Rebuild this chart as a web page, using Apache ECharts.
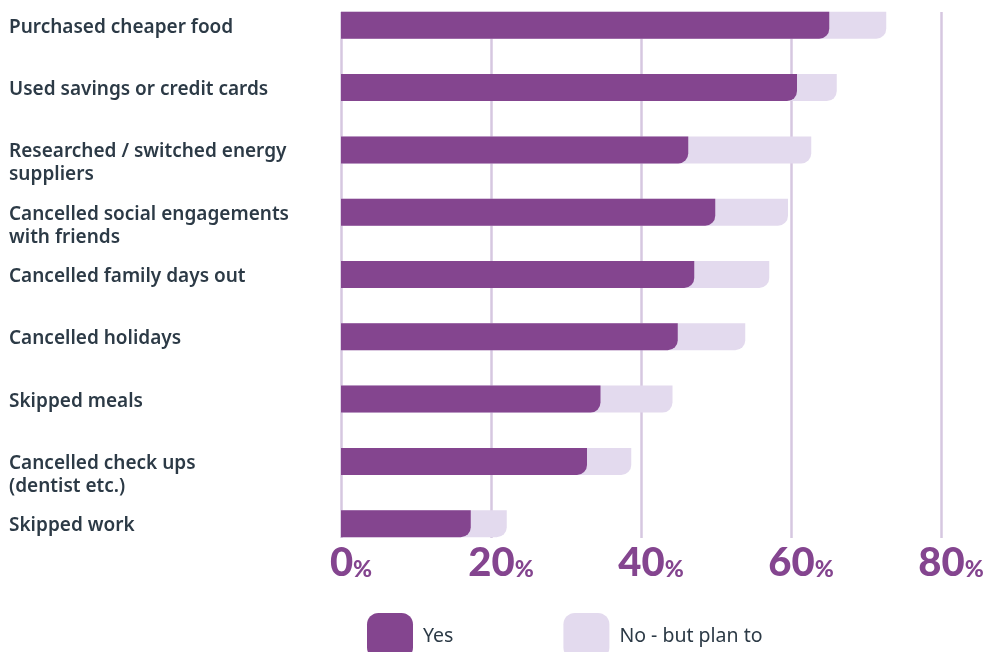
<!DOCTYPE html>
<html>
<head>
<meta charset="utf-8">
<script src="https://cdn.jsdelivr.net/npm/echarts@6/dist/echarts.min.js"></script>
<style>
  html, body { margin: 0; padding: 0; background: #ffffff; }
  #chart { width: 989px; height: 652px; }
</style>
</head>
<body>
<div id="chart"></div>
<script>
// Actions taken, top to bottom
const categories = [
  'Purchased cheaper food',
  'Used savings or credit cards',
  'Researched / switched energy\nsuppliers',
  'Cancelled social engagements\nwith friends',
  'Cancelled family days out',
  'Cancelled holidays',
  'Skipped meals',
  'Cancelled check ups\n(dentist etc.)',
  'Skipped work'
];

// Share of respondents (%)
const yesValues     = [65.1, 60.8, 46.3, 49.9, 47.1, 44.9, 34.6, 32.8, 17.3];
const planToValues  = [7.6, 5.3, 16.4, 9.7, 10.0, 9.0, 9.6, 5.9, 4.8];

const axisTicks = [0, 20, 40, 60, 80];

const seriesNames = ['Yes', 'No - but plan to'];

const DARK = '#84458f';
const LIGHT = '#e3daee';
const GRIDLINE = '#d6c7e0';
const TEXT = '#2c3a46';

// The light bar spans "Yes" + "No - but plan to" and sits behind the "Yes" bar
const totals = yesValues.map((v, i) => +(v + planToValues[i]).toFixed(1));

const chart = echarts.init(document.getElementById('chart'), null, { renderer: 'canvas' });

const barGrid   = { left: 341, right: 48, top: 25.3, bottom: 128.3 };
const lineGrid  = { left: 341, right: 48, top: 12, bottom: 114 };
// category labels: first text line sits on the bar's centre line
const labelGrid = { left: 341, right: 48, top: 15.8, bottom: 137.8 };

chart.setOption({
  backgroundColor: '#ffffff',
  animation: false,
  grid: [barGrid, lineGrid, labelGrid],
  legend: {
    data: seriesNames,
    left: 362,
    top: 608,
    itemWidth: 46,
    itemHeight: 46,
    itemGap: 110,
    icon: 'roundRect',
    textStyle: {
      color: TEXT,
      fontFamily: 'Noto Sans',
      fontSize: 19.5,
      padding: [0, 0, 0, 5]
    }
  },
  xAxis: [
    { gridIndex: 0, type: 'value', min: 0, max: 80, show: false },
    {
      gridIndex: 1,
      type: 'value',
      min: 0,
      max: 80,
      interval: 20,
      axisLine: { show: false },
      axisTick: { show: false },
      splitLine: { show: true, lineStyle: { color: GRIDLINE, width: 2.5 } },
      axisLabel: {
        margin: 3,
        padding: [0, 0, 0, 20],
        formatter: v => axisTicks.includes(v) ? '{n|' + v + '}{p|%}' : '',
        rich: {
          n: { fontFamily: 'Lato', fontWeight: 900, fontSize: 40, color: DARK, lineHeight: 42, verticalAlign: 'bottom' },
          p: { fontFamily: 'Lato', fontWeight: 900, fontSize: 23, color: DARK, lineHeight: 42, verticalAlign: 'bottom', padding: [0, 0, 2, 0] }
        }
      }
    },
    { gridIndex: 2, type: 'value', min: 0, max: 80, show: false }
  ],
  yAxis: [
    {
      gridIndex: 0,
      type: 'category',
      data: categories,
      inverse: true,
      boundaryGap: false,
      show: false
    },
    { gridIndex: 1, type: 'value', show: false },
    {
      gridIndex: 2,
      type: 'category',
      data: categories,
      inverse: true,
      boundaryGap: false,
      axisLine: { show: false },
      axisTick: { show: false },
      splitLine: { show: false },
      axisLabel: {
        align: 'left',
        verticalAlign: 'top',
        margin: 332,
        color: TEXT,
        fontFamily: 'Noto Sans',
        fontWeight: 600,
        fontSize: 19,
        lineHeight: 23
      }
    }
  ],
  series: [
    {
      name: 'No - but plan to',
      type: 'bar',
      xAxisIndex: 0,
      yAxisIndex: 0,
      data: totals,
      barWidth: 27,
      barGap: '-100%',
      itemStyle: { color: LIGHT, borderRadius: [0, 0, 10, 0] },
      z: 2
    },
    {
      name: 'Yes',
      type: 'bar',
      xAxisIndex: 0,
      yAxisIndex: 0,
      data: yesValues,
      barWidth: 27,
      barGap: '-100%',
      itemStyle: { color: DARK, borderRadius: [0, 0, 10, 0] },
      z: 3
    }
  ]
});
</script>
</body>
</html>
